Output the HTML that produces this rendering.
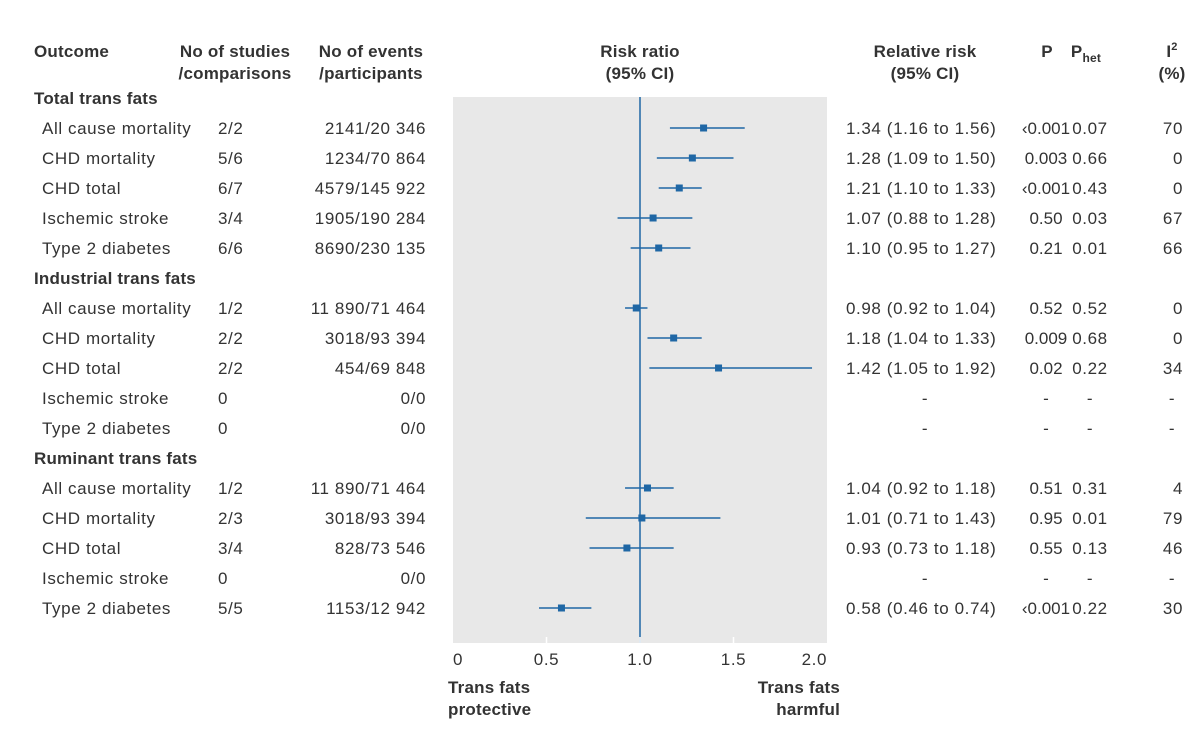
<!DOCTYPE html>
<html><head><meta charset="utf-8"><style>
body{margin:0;background:#fff;}
svg{display:block;font-family:"Liberation Sans",sans-serif;}
text{fill:#333;font-size:17px;letter-spacing:0.6px;}
.b{font-weight:bold;letter-spacing:0.2px;}
.tight{letter-spacing:0;}
</style></head><body>
<svg id="c" width="1200" height="729">
<rect x="453" y="97" width="374" height="546" fill="#e8e8e8"/>
<g>
<text x="34" y="57" class="b">Outcome</text>
<text x="235" y="57" class="b" text-anchor="middle">No of studies</text>
<text x="235" y="79" class="b" text-anchor="middle">/comparisons</text>
<text x="371" y="57" class="b" text-anchor="middle">No of events</text>
<text x="371" y="79" class="b" text-anchor="middle">/participants</text>
<text x="640" y="57" class="b" text-anchor="middle">Risk ratio</text>
<text x="640" y="79" class="b" text-anchor="middle">(95% CI)</text>
<text x="925" y="57" class="b" text-anchor="middle">Relative risk</text>
<text x="925" y="79" class="b" text-anchor="middle">(95% CI)</text>
<text x="1047" y="57" class="b" text-anchor="middle">P</text>
<text x="1086" y="57" class="b" text-anchor="middle">P<tspan font-size="12" dy="5">het</tspan></text>
<text x="1172" y="57" class="b" text-anchor="middle">I<tspan font-size="11" dy="-7">2</tspan></text>
<text x="1172" y="79" class="b" text-anchor="middle">(%)</text>
</g>
<g id="rows"></g>
<g id="axis"></g>
<text x="448" y="693" class="b">Trans fats</text>
<text x="448" y="715" class="b">protective</text>
<text x="840" y="693" class="b" text-anchor="end">Trans fats</text>
<text x="840" y="715" class="b" text-anchor="end">harmful</text>
</svg>
<script>
const labels=["Total trans fats","All cause mortality","CHD mortality","CHD total","Ischemic stroke","Type 2 diabetes","Industrial trans fats","All cause mortality","CHD mortality","CHD total","Ischemic stroke","Type 2 diabetes","Ruminant trans fats","All cause mortality","CHD mortality","CHD total","Ischemic stroke","Type 2 diabetes"];
const studies=["","2/2","5/6","6/7","3/4","6/6","","1/2","2/2","2/2","0","0","","1/2","2/3","3/4","0","5/5"];
const events=["","2141/20 346","1234/70 864","4579/145 922","1905/190 284","8690/230 135","","11 890/71 464","3018/93 394","454/69 848","0/0","0/0","","11 890/71 464","3018/93 394","828/73 546","0/0","1153/12 942"];
const rr=[null,1.34,1.28,1.21,1.07,1.10,null,0.98,1.18,1.42,null,null,null,1.04,1.01,0.93,null,0.58];
const lo=[null,1.16,1.09,1.10,0.88,0.95,null,0.92,1.04,1.05,null,null,null,0.92,0.71,0.73,null,0.46];
const hi=[null,1.56,1.50,1.33,1.28,1.27,null,1.04,1.33,1.92,null,null,null,1.18,1.43,1.18,null,0.74];
const pvals=["","‹0.001","0.003","‹0.001","0.50","0.21","","0.52","0.009","0.02","-","-","","0.51","0.95","0.55","-","‹0.001"];
const phet=["","0.07","0.66","0.43","0.03","0.01","","0.52","0.68","0.22","-","-","","0.31","0.01","0.13","-","0.22"];
const i2=["","70","0","0","67","66","","0","0","34","-","-","","4","79","46","-","30"];
const ticks=[0,0.5,1.0,1.5,2.0];
const tickLabels=["0","0.5","1.0","1.5","2.0"];
const NS="http://www.w3.org/2000/svg";
const x=v=>453+v*187;
const y=i=>98+i*30;
function mk(tag,attrs,txt,parent){const e=document.createElementNS(NS,tag);for(const k in attrs)e.setAttribute(k,attrs[k]);if(txt!=null)e.textContent=txt;parent.appendChild(e);return e;}
const rows=document.getElementById('rows');
const ax=document.getElementById('axis');
const ref=mk('line',{x1:x(1),x2:x(1),y1:97,y2:643,stroke:'#1f67a5','stroke-width':1.5},null,rows);


labels.forEach((l,i)=>{
  const yy=y(i)+6;
  const sec=studies[i]==="";
  const t=mk('text',{x:sec?34:42,y:yy,class:sec?'b':''},l,rows);
  
  
  if(sec)return;
  const s=mk('text',{x:218,y:yy},studies[i],rows);
  
  
  const e=mk('text',{x:426,y:yy,'text-anchor':'end'},events[i],rows);
  
  
  let rtxt='-';
  if(rr[i]!=null){
    rtxt=rr[i].toFixed(2)+' ('+lo[i].toFixed(2)+' to '+hi[i].toFixed(2)+')';
    const ci=mk('line',{x1:x(lo[i]),x2:x(hi[i]),y1:y(i),y2:y(i),stroke:'#1f67a5','stroke-width':1.6},null,rows);
    
    
    const m=mk('rect',{x:x(rr[i])-3.5,y:y(i)-3.5,width:7,height:7,fill:'#1f67a5'},null,rows);
    
    
  }
  const r=mk('text',{x:rr[i]!=null?846:925,y:yy,'text-anchor':rr[i]!=null?'start':'middle'},rtxt,rows);
  
  
  const p=mk('text',{x:1046,y:yy,'text-anchor':'middle',class:'tight'},pvals[i],rows);
  
  
  const ph=mk('text',{x:1090,y:yy,'text-anchor':'middle'},phet[i],rows);
  
  
  const q=mk('text',{x:i2[i]==='-'?1172:1183,y:yy,'text-anchor':i2[i]==='-'?'middle':'end'},i2[i],rows);
  
  
});
ticks.forEach((v,k)=>{
  if(k>0&&k<ticks.length-1){
    const tm=mk('line',{x1:x(v),x2:x(v),y1:637,y2:643,stroke:'#fff','stroke-width':1.5},null,ax);
    
    
  }
  const tl=mk('text',{x:x(v),y:665,'text-anchor':k===0?'start':(k===ticks.length-1?'end':'middle')},tickLabels[k],ax);
  
  
});
</script>
</body></html>
